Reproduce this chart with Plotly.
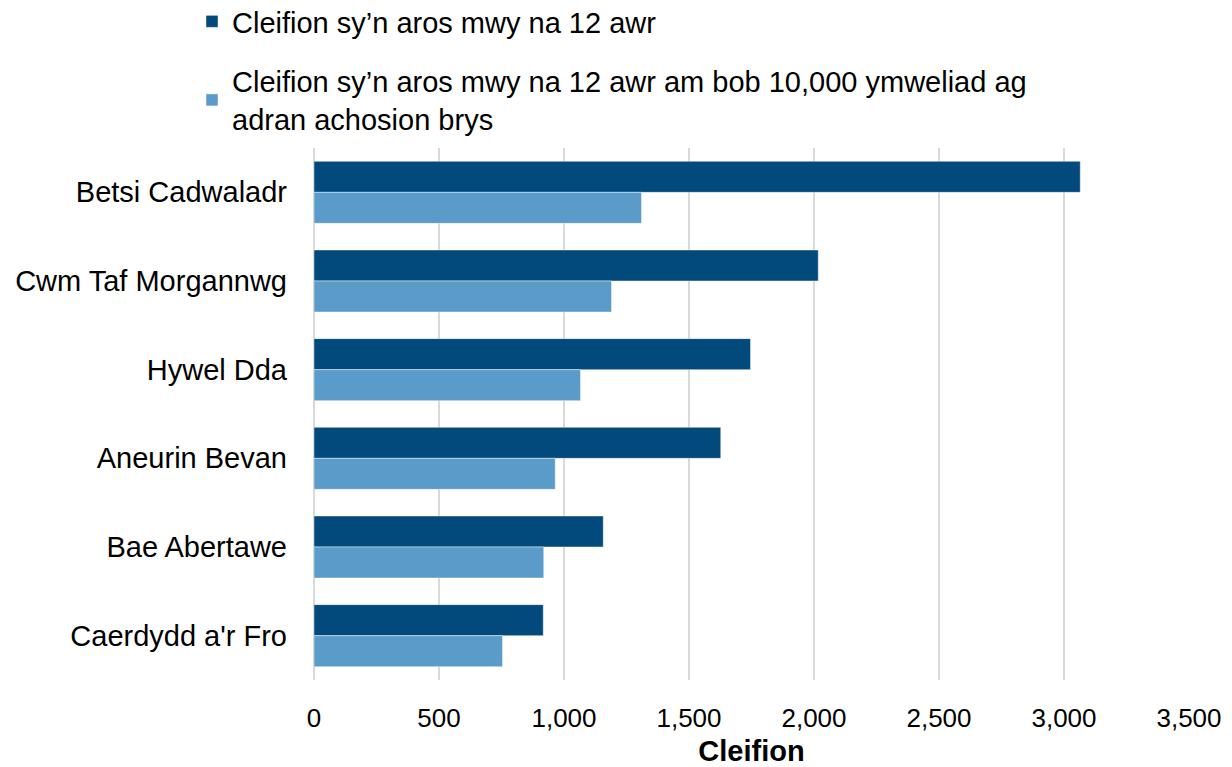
import plotly.graph_objects as go

categories = ["Betsi Cadwaladr", "Cwm Taf Morgannwg", "Hywel Dda", "Aneurin Bevan", "Bae Abertawe", "Caerdydd a'r Fro"]
patients_over_12h = [3065, 2017, 1746, 1627, 1157, 917]
per_10000_visits = [1310, 1190, 1066, 965, 919, 754]
series_names = [
    "Cleifion sy’n aros mwy na 12 awr",
    "Cleifion sy’n aros mwy na 12 awr am bob 10,000 ymweliad ag<br>adran achosion brys",
]
x_ticks = [0, 500, 1000, 1500, 2000, 2500, 3000, 3500]
x_title = "Cleifion"

FONT = "Liberation Sans, Arial, sans-serif"

fig = go.Figure()
fig.add_trace(go.Bar(
    y=categories, x=patients_over_12h, orientation="h", name=series_names[0],
    marker=dict(color="#034a7c", line=dict(color="rgba(255,255,255,0.45)", width=1)),
    legendgroup="a",
))
fig.add_trace(go.Bar(
    y=categories, x=per_10000_visits, orientation="h", name=series_names[1],
    marker=dict(color="#5b9bc9", line=dict(color="rgba(255,255,255,0.45)", width=1)),
    legendgroup="b",
))

fig.update_layout(
    width=1224, height=759,
    margin=dict(l=306, r=43, t=140, b=87, autoexpand=False),
    paper_bgcolor="white", plot_bgcolor="white",
    barmode="group", bargap=0.3, bargroupgap=0,
    font=dict(family=FONT, size=29, color="#000000"),
    legend=dict(
        xref="paper", yref="paper",
        x=(192 - 314) / 875, y=1 + (140 + 12) / 532, xanchor="left", yanchor="top",
        orientation="v", traceorder="grouped",
        tracegroupgap=19, itemwidth=30,
        font=dict(family=FONT, size=29, color="#000000"),
        bgcolor="rgba(0,0,0,0)",
    ),
)
fig.update_xaxes(
    range=[0, 3500], tickvals=x_ticks, tickformat=",", automargin=False,
    showgrid=True, gridcolor="#d9d9d9", gridwidth=2,
    zeroline=True, zerolinecolor="#d9d9d9", zerolinewidth=2,
    showline=False, ticks="", ticklabelstandoff=20,
    tickfont=dict(family=FONT, size=26, color="#000000"),
    title=dict(text="<b>" + x_title + "</b>", font=dict(family=FONT, size=29, color="#000000"), standoff=19),
)
fig.update_yaxes(
    autorange="reversed", showgrid=False, showline=False, ticks="", automargin=False,
    ticklabelstandoff=26,
    tickfont=dict(family=FONT, size=29, color="#000000"),
)

fig.write_html("out.html")
